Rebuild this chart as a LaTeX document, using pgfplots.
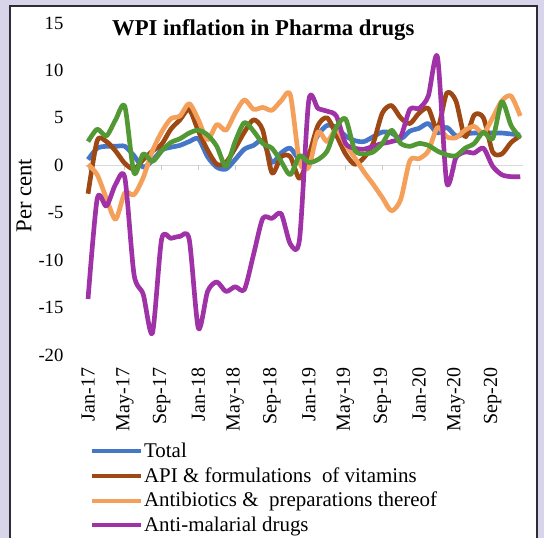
\documentclass[border=0pt]{standalone}
\usepackage{fontspec}
\setmainfont{Liberation Serif}
\usepackage{pgfplots}
\pgfplotsset{compat=1.18}
\usepackage{pgfplotstable}

\definecolor{bgcol}{RGB}{216,212,234}
\definecolor{framecol}{RGB}{45,45,55}
\definecolor{ctotal}{RGB}{70,118,200}
\definecolor{capi}{RGB}{158,72,20}
\definecolor{cabx}{RGB}{245,160,90}
\definecolor{cmal}{RGB}{160,50,168}
\definecolor{cgrn}{RGB}{82,152,52}

% month index (0 = Jan-17), per cent
\pgfplotstableread{
m  total  api   abx   mal    grn
0  0.6   -3.0   0.1  -14.1   2.5
1  1.8    2.6  -1.0   -3.5   3.8
2  2.0    2.5  -3.5   -4.3   3.1
3  2.0    1.5  -5.7   -2.0   4.8
4  2.0    0.2  -2.9   -1.3   6.2
5  1.0   -0.4  -3.1  -11.5  -0.8
6 -0.2    0.6  -1.3  -13.6   1.2
7  0.5    1.5   1.5  -17.7   0.4
8  1.6    2.2   3.5   -7.8   1.5
9  1.9    3.8   4.9   -7.7   2.4
10 2.1    4.8   5.2   -7.5   2.8
11 2.5    5.9   6.5   -7.8   3.4
12 2.8    3.6   4.8  -17.2   3.7
13 0.9    1.6   2.7  -13.3   3.2
14 -0.2   0.1   4.3  -12.3   2.0
15 -0.4   0.3   3.7  -13.3  -0.1
16 0.6    1.8   5.5  -12.8   2.5
17 1.7    3.5   6.9  -13.1   4.5
18 2.1    4.8   5.9   -9.4   3.6
19 2.6    3.7   6.1   -5.6   2.3
20 0.3   -0.8   5.8   -5.6   1.8
21 1.3    0.9   6.8   -5.1   0.4
22 1.8    0.9   7.4   -8.3  -1.0
23 0.6   -1.4   0.4   -7.8   1.0
24 1.2    1.0  -0.2    6.8   0.3
25 3.2    4.2   3.5    6.0   0.6
26 4.2    5.0   2.5    5.7   1.5
27 4.0    3.2   3.8    5.2   4.0
28 3.1    1.2   2.2    2.3   4.9
29 2.6    0.1   0.8    1.8   1.6
30 2.5    0.8  -0.7    1.7   1.2
31 3.0    2.3  -2.0    2.0   1.4
32 3.5    5.5  -3.4    2.3   2.3
33 3.4    6.3  -4.8    2.5   3.7
34 2.8    5.0  -3.6    3.0   2.3
35 3.6    4.4   0.5    5.9   2.0
36 3.9    5.5   0.7    6.0   2.3
37 4.4    6.0   1.5    7.3   2.1
38 3.4    3.8   4.0   11.4   1.5
39 4.0    7.6   3.0   -1.8   1.1
40 3.1    6.8   2.9    0.8   1.0
41 3.3    3.0   3.7    1.4   1.8
42 3.4    5.3   4.1    1.3   2.3
43 3.4    5.0   3.4    1.8   3.5
44 3.4    1.4   5.0   -0.1   2.8
45 3.4    1.2   6.8   -1.0   6.7
46 3.3    2.4   7.3   -1.2   4.2
47 3.2    3.1   5.2   -1.2   2.9
}\pharma

\begin{document}
\begin{tikzpicture}
\useasboundingbox (0,0) rectangle (408pt,-403.5pt);
\fill[bgcol] (0,0) rectangle (408pt,-403.5pt);
\begin{scope}
\clip (0,0) rectangle (408pt,-403.5pt);
\draw[line width=1.8pt, draw=framecol, fill=white] (7.5pt,-4.5pt) rectangle (402.75pt,-430pt);
\end{scope}
\begin{axis}[
    at={(63.75pt,-266.25pt)},
    anchor=south west,
    scale only axis,
    width=328.5pt,
    height=249pt,
    xmin=-0.33, xmax=47.3,
    ymin=-20, ymax=15,
    ytick={-20,-15,...,15},
    xtick={0,4,...,44},
    xticklabels={Jan-17,May-17,Sep-17,Jan-18,May-18,Sep-18,Jan-19,May-19,Sep-19,Jan-20,May-20,Sep-20},
    axis line style={draw=none},
    major tick length=0pt,
    /pgf/number format/assume math mode=true,
    yticklabel style={anchor=east, inner sep=0pt, font=\fontsize{14}{16}\selectfont},
    yticklabel shift=16pt,
    xticklabel style={rotate=90, anchor=east, inner sep=0pt, font=\fontsize{15}{17}\selectfont},
    xticklabel shift=9.5pt,
    extra y ticks={0},
    extra y tick labels={},
    extra y tick style={grid=major, grid style={draw={rgb,255:red,217;green,217;blue,217}, line width=1.1pt}},
    ylabel={Per cent},
    ylabel style={at={(axis description cs:-0.139,0.48)}, anchor=center, rotate=0, font=\fontsize{17}{19}\selectfont},
    title={WPI inflation in Pharma drugs},
    title style={at={(axis description cs:0.407,0.955)}, anchor=center, font=\bfseries\fontsize{17}{20}\selectfont},
    legend style={at={(axis description cs:0.011,-0.262)}, anchor=north west, draw=none, fill=none,
        font=\fontsize{15.7}{17}\selectfont, row sep=5pt, inner sep=0pt,
        nodes={inner sep=0.5pt, anchor=west}},
    legend cell align=left,
    legend image code/.code={\draw[#1, line width=3pt] (0pt,0pt) -- (37pt,0pt);},
    every axis plot/.append style={line width=3.5pt, smooth, tension=0.45, line join=round},
]
\pgfplotsinvokeforeach{0,4,...,44}{
  \draw[draw={rgb,255:red,200;green,200;blue,200}, line width=0.6pt] (axis cs:#1,0) -- (axis cs:#1,-0.45);
}
\addplot[ctotal] table[x=m, y=total] {\pharma};
\addplot[capi] table[x=m, y=api] {\pharma};
\addplot[cabx] table[x=m, y=abx] {\pharma};
\addplot[cmal] table[x=m, y=mal] {\pharma};
\addplot[cgrn, forget plot] table[x=m, y=grn] {\pharma};
\legend{Total, API \& formulations\ \ of vitamins, Antibiotics \&\ \ preparations thereof, Anti-malarial drugs}
\end{axis}
\end{tikzpicture}
\end{document}
